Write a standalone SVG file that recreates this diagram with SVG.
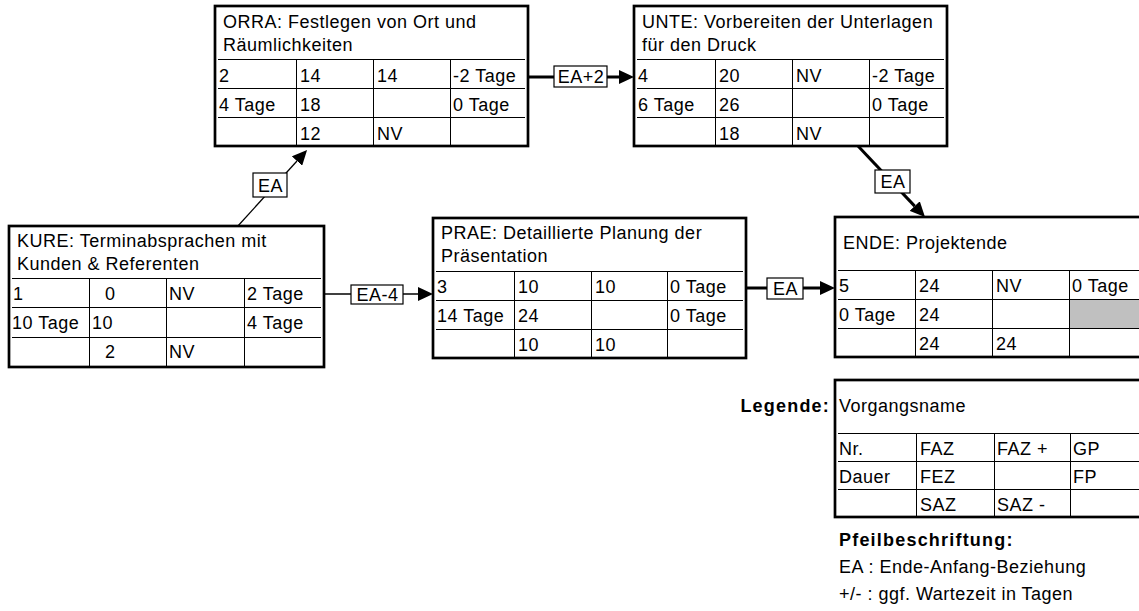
<svg xmlns="http://www.w3.org/2000/svg" width="1139" height="611" viewBox="0 0 1139 611">
<defs>
<marker id="ah" viewBox="0 0 15 14" refX="0" refY="7" markerWidth="15" markerHeight="14" markerUnits="userSpaceOnUse" orient="auto">
<path d="M0,0 L15,7 L0,14 Z" fill="#000"/>
</marker>
</defs>
<style>
text{font-family:"Liberation Sans",Arial,sans-serif;font-size:18px;letter-spacing:0.5px;fill:#000}
.b{font-weight:bold;letter-spacing:1.2px}
.m{text-anchor:middle}
.e{text-anchor:end}
.box{fill:#fff;stroke:#000;stroke-width:2.7}
.g{stroke:#000;stroke-width:1;fill:none}
.c1{stroke:#000;stroke-width:1.3;fill:none}
.c2{stroke:#000;stroke-width:3;fill:none}
.lb{fill:#fff;stroke:#000;stroke-width:1.2}
.grey{fill:#c0c0c0}
</style>
<rect width="1139" height="611" fill="#fff"/>

<g id="connectors">
<line class="c2" x1="528" y1="77" x2="619" y2="77" marker-end="url(#ah)"/>
<rect class="lb" x="554" y="66" width="53" height="21"/>
<text class="m" x="581" y="83">EA+2</text>

<line class="c1" x1="237" y1="227" x2="297" y2="161" marker-end="url(#ah)"/>
<rect class="lb" x="253" y="173" width="34" height="24"/>
<text class="m" x="270.5" y="192">EA</text>

<line class="c1" x1="324" y1="294" x2="418" y2="294" marker-end="url(#ah)"/>
<rect class="lb" x="351" y="285" width="52" height="19"/>
<text class="m" x="377.5" y="301">EA-4</text>

<line class="c2" x1="746" y1="288" x2="820" y2="288" marker-end="url(#ah)"/>
<rect class="lb" x="767" y="278" width="36" height="21"/>
<text class="m" x="785.5" y="295">EA</text>

<line class="c2" x1="858" y1="146" x2="914.7" y2="206.1" marker-end="url(#ah)"/>
<rect class="lb" x="875" y="170" width="35" height="23"/>
<text class="m" x="893" y="188">EA</text>
</g>

<g id="ORRA">
<rect class="box" x="215" y="6" width="313" height="140"/>
<path class="g" d="M218,59.5H525M218,88.5H525M218,117.5H525M296.5,59.5V146M373.5,59.5V146M450.5,59.5V146"/>
<text x="223" y="28">ORRA: Festlegen von Ort und</text>
<text x="223" y="51">Räumlichkeiten</text>
<text x="219" y="82">2</text><text x="300" y="82">14</text><text x="377" y="82">14</text><text x="453" y="82">-2 Tage</text>
<text x="219" y="111">4 Tage</text><text x="300" y="111">18</text><text x="453" y="111">0 Tage</text>
<text x="300" y="140">12</text><text x="377" y="140">NV</text>
</g>

<g id="UNTE">
<rect class="box" x="634" y="6" width="313" height="140"/>
<path class="g" d="M637,59.5H944M637,88.5H944M637,117.5H944M715.5,59.5V146M792.5,59.5V146M869.5,59.5V146"/>
<text x="642" y="28">UNTE: Vorbereiten der Unterlagen</text>
<text x="642" y="51">für den Druck</text>
<text x="638" y="82">4</text><text x="719" y="82">20</text><text x="796" y="82">NV</text><text x="872" y="82">-2 Tage</text>
<text x="638" y="111">6 Tage</text><text x="719" y="111">26</text><text x="872" y="111">0 Tage</text>
<text x="719" y="140">18</text><text x="796" y="140">NV</text>
</g>

<g id="KURE">
<rect class="box" x="9" y="226" width="315" height="141"/>
<path class="g" d="M12,278.5H321M12,307.5H321M12,337.5H321M89.5,278.5V367M166.5,278.5V367M244.5,278.5V367"/>
<text x="17" y="247">KURE: Terminabsprachen mit</text>
<text x="17" y="270">Kunden &amp; Referenten</text>
<text x="13" y="300">1</text><text x="105" y="300">0</text><text x="169" y="300">NV</text><text x="247" y="300">2 Tage</text>
<text x="12" y="329">10 Tage</text><text x="92" y="329">10</text><text x="247" y="329">4 Tage</text>
<text x="105" y="358">2</text><text x="169" y="358">NV</text>
</g>

<g id="PRAE">
<rect class="box" x="433" y="218" width="313" height="140"/>
<path class="g" d="M436,271.5H743M436,300.5H743M436,329.5H743M514.5,271.5V358M591.5,271.5V358M667.5,271.5V358"/>
<text x="441" y="239">PRAE: Detaillierte Planung der</text>
<text x="441" y="262">Präsentation</text>
<text x="437" y="293">3</text><text x="518" y="293">10</text><text x="595" y="293">10</text><text x="670" y="293">0 Tage</text>
<text x="437" y="322">14 Tage</text><text x="518" y="322">24</text><text x="670" y="322">0 Tage</text>
<text x="518" y="351">10</text><text x="595" y="351">10</text>
</g>

<g id="ENDE">
<rect class="box" x="835" y="217" width="315" height="140"/>
<rect class="grey" x="1070" y="300" width="75" height="28"/>
<path class="g" d="M838,270.5H1150M838,299.5H1150M838,328.5H1150M915.5,270.5V357M992.5,270.5V357M1069.5,270.5V357"/>
<text x="843" y="249">ENDE: Projektende</text>
<text x="839" y="292">5</text><text x="919" y="292">24</text><text x="996" y="292">NV</text><text x="1072" y="292">0 Tage</text>
<text x="839" y="321">0 Tage</text><text x="919" y="321">24</text>
<text x="919" y="350">24</text><text x="996" y="350">24</text>
</g>

<g id="legend">
<text class="b e" x="830" y="412">Legende:</text>
<rect class="box" x="835" y="380" width="315" height="137"/>
<path class="g" d="M838,433.5H1150M838,461.5H1150M838,489.5H1150M916.5,433.5V517M994.5,433.5V517M1070.5,433.5V517"/>
<text x="839" y="412">Vorgangsname</text>
<text x="839" y="455">Nr.</text><text x="920" y="455">FAZ</text><text x="997" y="455">FAZ +</text><text x="1073" y="455">GP</text>
<text x="839" y="483">Dauer</text><text x="920" y="483">FEZ</text><text x="1073" y="483">FP</text>
<text x="920" y="511">SAZ</text><text x="997" y="511">SAZ -</text>
<text class="b" x="839" y="546">Pfeilbeschriftung:</text>
<text x="839" y="573">EA : Ende-Anfang-Beziehung</text>
<text x="839" y="600">+/- : ggf. Wartezeit in Tagen</text>
</g>
</svg>
